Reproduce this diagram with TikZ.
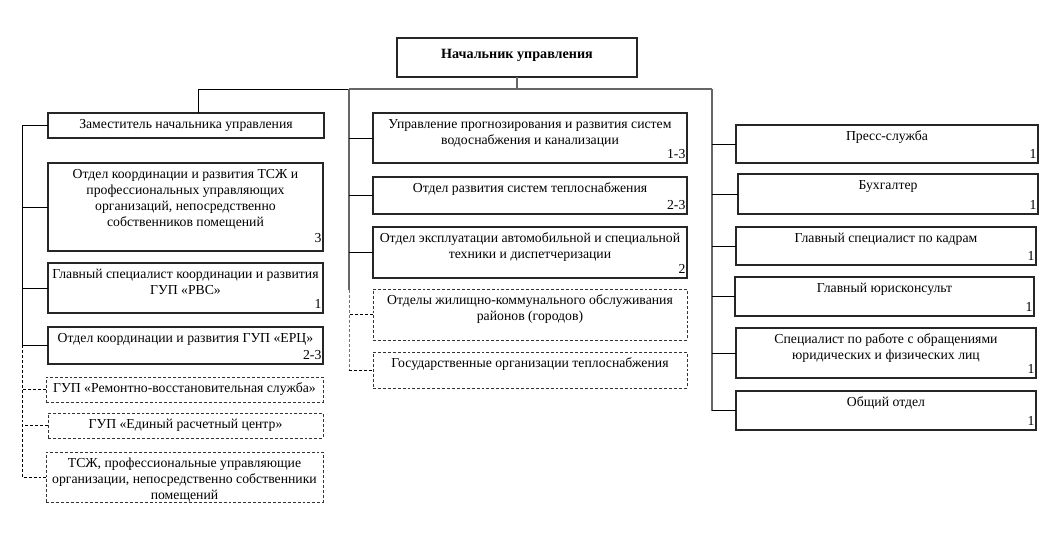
\documentclass[tikz,border=0pt]{standalone}
\usepackage{fontspec}
\setmainfont{Liberation Serif}
\begin{document}
\begin{tikzpicture}[x=0.75pt,y=-0.75pt,
  boxs/.style={draw=black!85,line width=0.85pt,inner sep=0pt,outer sep=0pt,rectangle},
  dboxs/.style={boxs,draw=black!80,dash pattern=on 2.2pt off 1.5pt,line width=0.7pt},
  boxtext/.style={align=center,inner xsep=1pt,inner ysep=4.4pt,font=\fontsize{10.3}{12}\selectfont},
  numtext/.style={inner xsep=1pt,inner ysep=3pt,font=\fontsize{10.3}{12}\selectfont},
  conn/.style={draw=black,line width=0.7pt},
  gconn/.style={draw=black!60,line width=0.8pt},
  dconn/.style={draw=black,line width=0.7pt,dash pattern=on 2.2pt off 1.5pt},
  dgconn/.style={draw=black!55,line width=0.7pt,dash pattern=on 2.2pt off 1.5pt}]
\useasboundingbox (0,0) rectangle (1059,546);
\newcommand\ubox[8]{%
  \node[#6,anchor=north west,minimum width={(#4-#2)*0.75pt},minimum height={(#5-#3)*0.75pt}] (#1) at (#2,#3) {};
  \node[boxtext,anchor=north] at (#1.north) {#7};
  \node[numtext,anchor=south east] at (#1.south east) {#8};
}
% top
\node[boxs,anchor=north west,minimum width={(637-397)*0.75pt},minimum height={(77-38)*0.75pt}] (top) at (397,38) {};
\node[boxtext,anchor=north,yshift=-3.5pt,font=\fontsize{10.6}{12}\selectfont\bfseries] at (top.north) {Начальник управления};
% left column
\ubox{dep}{48}{113}{324}{138}{boxs}{Заместитель начальника управления}{}
\node[boxs,anchor=north west,minimum width={(323-48)*0.75pt},minimum height={(251-163)*0.75pt}] (b2) at (48,163) {};
\node[boxtext,anchor=north] at (b2.north) {Отдел координации и развития ТСЖ и\\профессиональных управляющих\\организаций, непосредственно\\собственников помещений};
\node[numtext,anchor=south east,yshift=3pt] at (b2.south east) {3};
\ubox{b3}{48}{263}{323}{313}{boxs}{Главный специалист координации и развития\\ГУП «РВС»}{1}
\ubox{b4}{48}{327}{323}{364}{boxs}{Отдел координации и развития ГУП «ЕРЦ»}{2-3}
\ubox{d5}{46}{377}{323}{402}{dboxs}{ГУП «Ремонтно-восстановительная служба»}{}
\ubox{d6}{48}{413}{323}{438}{dboxs}{ГУП «Единый расчетный центр»}{}
\ubox{d7}{46}{452}{323}{502}{dboxs}{ТСЖ, профессиональные управляющие\\организации, непосредственно собственники\\помещений}{}
% middle column
\ubox{m1}{373}{113}{687}{163}{boxs}{Управление прогнозирования и развития систем\\водоснабжения и канализации}{1-3}
\ubox{m2}{373}{177}{687}{214}{boxs}{Отдел развития систем теплоснабжения}{2-3}
\ubox{m3}{373}{227}{687}{278}{boxs}{Отдел эксплуатации автомобильной и специальной\\техники и диспетчеризации}{2}
\ubox{m4}{373}{289}{687}{340}{dboxs}{Отделы жилищно-коммунального обслуживания\\районов (городов)}{}
\ubox{m5}{373}{352}{687}{388}{dboxs}{Государственные организации теплоснабжения}{}
% right column
\ubox{r1}{736}{125}{1038}{163}{boxs}{Пресс-служба}{1}
\ubox{r2}{738}{174}{1038}{214}{boxs}{Бухгалтер}{1}
\ubox{r3}{736}{227}{1036}{265}{boxs}{Главный специалист по кадрам}{1}
\ubox{r4}{735}{277}{1034}{316}{boxs}{Главный юрисконсульт}{1}
\ubox{r5}{736}{328}{1036}{378}{boxs}{Специалист по работе с обращениями\\юридических и физических лиц}{1}
\ubox{r6}{736}{391}{1036}{430}{boxs}{Общий отдел}{1}
% bus
\coordinate (busL) at (198,89);
\coordinate (busM) at (349,89);
\coordinate (busR) at (712,89);
\coordinate (lx) at (22,0);
\coordinate (mbreak) at (349,290);
\draw[gconn] (top.south) -- (top.south |- busL);
\draw[conn] (busL) -- (busM);
\draw[gconn] (busM) -- (busR);
\draw[conn] (busL) -- (busL |- dep.north);
% left tree
\draw[conn] (dep.west) -- (dep.west -| lx) -- (b4.west -| lx) -- (b4.west);
\draw[conn] (b2.west) -- (b2.west -| lx);
\draw[conn] (b3.west) -- (b3.west -| lx);
\draw[dconn] (b4.west -| lx) -- (d7.west -| lx) -- (d7.west);
\draw[dconn] (d5.west) -- (d5.west -| lx);
\draw[dconn] (d6.west) -- (d6.west -| lx);
% middle tree
\draw[gconn] (busM) -- (mbreak);
\draw[dgconn] (mbreak) -- (m5.west -| mbreak);
\draw[dconn] (m5.west -| mbreak) -- (m5.west);
\draw[dconn] (m4.west) -- (m4.west -| mbreak);
\draw[conn] (m1.west) -- (m1.west -| mbreak);
\draw[conn] (m2.west) -- (m2.west -| mbreak);
\draw[conn] (m3.west) -- (m3.west -| mbreak);
% right tree
\draw[gconn] (busR) -- (busR |- r6.west);
\draw[conn] (busR |- r6.west) -- (r6.west);
\draw[conn] (r1.west) -- (r1.west -| busR);
\draw[conn] (r2.west) -- (r2.west -| busR);
\draw[conn] (r3.west) -- (r3.west -| busR);
\draw[conn] (r4.west) -- (r4.west -| busR);
\draw[conn] (r5.west) -- (r5.west -| busR);
\end{tikzpicture}
\end{document}
